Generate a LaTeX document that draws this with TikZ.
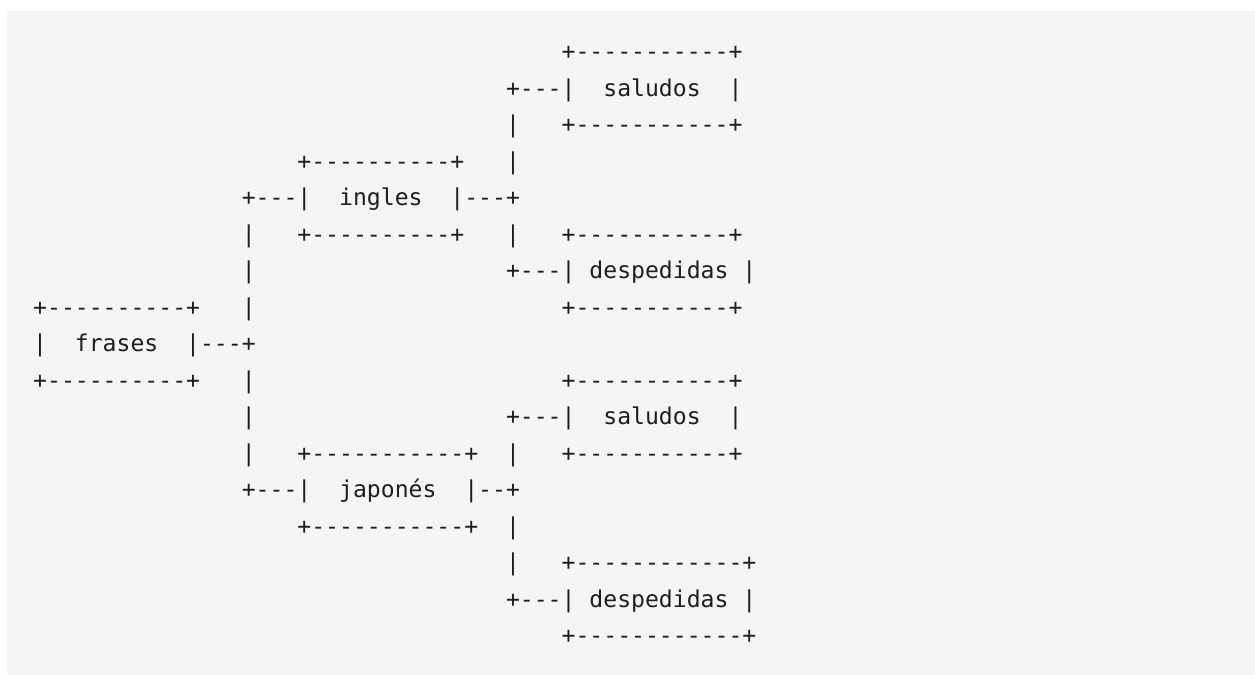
\documentclass[tikz,border=0pt]{standalone}
\usepackage{fontspec}
\setmonofont{DejaVu Sans Mono}

\definecolor{codebg}{HTML}{F5F5F5}
\definecolor{codefg}{HTML}{1E1E1E}

% one column of the monospaced grid
\newlength\cw
\setlength\cw{13.906pt}
\newcommand\gap[1]{\hspace*{#1\cw}}

\tikzset{
  row/.style={anchor=base west, inner sep=0pt, text=codefg,
    font=\ttfamily\fontsize{23.1pt}{36.5pt}\selectfont},
}

\begin{document}
\begin{tikzpicture}
  \useasboundingbox (0,0) rectangle (1255pt,-675pt);
  \fill[codebg] (7pt,-11pt) rectangle (1255pt,-675pt);

  % columns and rows of the tree, one node per row
  \begin{scope}[shift={(33pt,-23pt)}, x=\cw, y=-36.5pt]
    \node[row] (r1)  at (38,1)  {+-----------+};
    \node[row] (r2)  at (34,2)  {+---|~~saludos~~|};
    \node[row] (r3)  at (34,3)  {|~~~+-----------+};
    \node[row] (r4)  at (19,4)  {+----------+~~~|};
    \node[row] (r5)  at (15,5)  {+---|~~ingles~~|---+};
    \node[row] (r6)  at (15,6)  {|~~~+----------+~~~|~~~+-----------+};
    \node[row] (r7)  at (15,7)  {|\gap{18}+---|~despedidas~|};
    \node[row] (r8)  at (0,8)   {+----------+~~~|\gap{22}+-----------+};
    \node[row] (r9)  at (0,9)   {|~~frases~~|---+};
    \node[row] (r10) at (0,10)  {+----------+~~~|\gap{22}+-----------+};
    \node[row] (r11) at (15,11) {|\gap{18}+---|~~saludos~~|};
    \node[row] (r12) at (15,12) {|~~~+-----------+~~|~~~+-----------+};
    \node[row] (r13) at (15,13) {+---|~~japonés~~|--+};
    \node[row] (r14) at (19,14) {+-----------+~~|};
    \node[row] (r15) at (34,15) {|~~~+------------+};
    \node[row] (r16) at (34,16) {+---|~despedidas~|};
    \node[row] (r17) at (38,17) {+------------+};
  \end{scope}
\end{tikzpicture}
\end{document}
